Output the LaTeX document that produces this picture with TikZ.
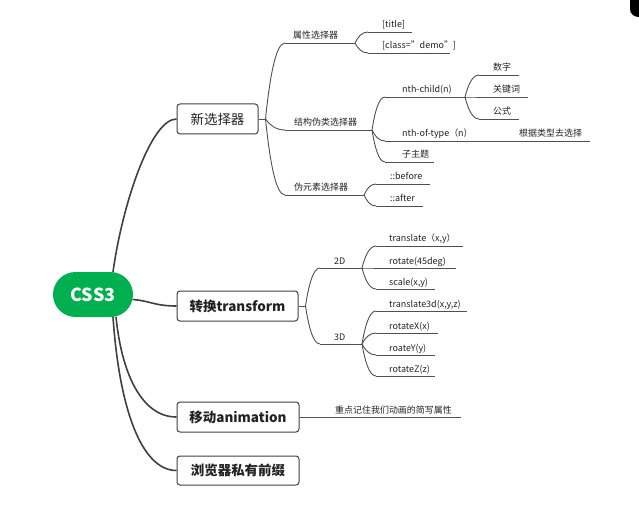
\documentclass[tikz,border=0pt]{standalone}
\usepackage{fontspec}
\setmainfont{Noto Sans CJK SC}
\usetikzlibrary{calc}
\definecolor{cssgreen}{RGB}{0,176,80}
\definecolor{linemain}{RGB}{64,64,64}
\definecolor{linesub}{RGB}{80,80,80}
\definecolor{txt}{RGB}{34,34,34}
\tikzset{
  mainbox/.style={draw=linemain, line width=1bp, rounded corners=3bp, fill=white,
    font=\fontsize{13.5}{16}\selectfont\bfseries, text=txt, inner sep=0pt},
  rootnode/.style={fill=cssgreen, rounded corners=22.5bp, minimum width=80bp,
    minimum height=45bp, text=white, font=\fontsize{18}{20}\selectfont\bfseries, inner sep=0pt},
  mainline/.style={draw=linemain, line width=1.6bp},
  subline/.style={draw=linesub, line width=0.9bp},
  lbl/.style={font=\fontsize{9}{10}\selectfont, text=txt, inner sep=0pt, anchor=base west},
}
\newcommand{\mmtopic}[6]{%
  \coordinate (#1-l) at (#2,#4);
  \coordinate (#1-r) at (#3,#4);
  \draw[subline] (#1-l) -- (#1-r);
  \node[lbl] (#1) at (#5,#4-4) {#6};
}
\newcommand{\mmconn}[6][subline]{%
  \draw[#1] let \p1=(#2), \p2=(#3) in (\p1) .. controls ({\x1+#4*(\x2-\x1)},{\y1+#5*(\y2-\y1)}) and ({\x1+#6*(\x2-\x1)},{\y2}) .. (\p2);
}
\begin{document}
\begin{tikzpicture}[x=1bp,y=-1bp]
\useasboundingbox (0,0) rectangle (639,511);
\fill[white] (0,0) rectangle (639,511);
\fill[black] (639,0) -- (630,0) -- (630,9) .. controls (630,14) and (634,17) .. (639,17) -- cycle;

% main nodes
\node[rootnode] (css) at (93,294.5) {CSS3};
\node[mainbox, font=\fontsize{13.5}{16}\selectfont, minimum width=81bp, minimum height=30bp] (b1) at (217.5,119) {新选择器};
\node[mainbox, minimum width=121bp, minimum height=30bp] (b2) at (237.5,306) {转换transform};
\node[mainbox, minimum width=122bp, minimum height=30bp] (b3) at (238,417) {移动animation};
\node[mainbox, minimum width=122bp, minimum height=29bp] (b4) at (238,470.5) {浏览器私有前缀};

% main connectors
\coordinate (r1) at ($(css.north)+(20,0.2)$);
\coordinate (r2) at ($(css.east)+(-0.6,5)$);
\coordinate (r3) at ($(css.south)+(23,-0.3)$);
\coordinate (r4) at ($(css.south)+(20,-0.3)$);
\mmconn[mainline]{r1}{b1.west}{0.15}{0.45}{0.6}
\mmconn[mainline]{r2}{b2.west}{0.4}{0.2}{0.5}
\mmconn[mainline]{r3}{b3.west}{0.1}{0.6}{0.45}
\mmconn[mainline]{r4}{b4.west}{0.1}{0.6}{0.45}

% 新选择器
\coordinate (j1) at ($(b1.east)+(7,0)$);
\draw[subline] (b1.east) -- (j1);
\mmtopic{s1}{285}{355}{43}{293}{属性选择器}
\mmtopic{s2}{285}{372}{130}{294}{结构伪类选择器}
\mmtopic{s3}{285}{364}{195}{294}{伪元素选择器}
\mmconn{j1}{s1-l}{0.2}{0.5}{0.5}
\mmconn{j1}{s2-l}{0.2}{0.5}{0.5}
\mmconn{j1}{s3-l}{0.2}{0.5}{0.5}

\mmtopic{s11}{368}{412}{32}{382}{[title]}
\mmtopic{s12}{368}{450}{53}{382}{[class="demo"]}
\mmconn{s1-r}{s11-l}{0.2}{0.5}{0.5}
\mmconn{s1-r}{s12-l}{0.2}{0.5}{0.5}

\mmtopic{s21}{385}{465}{97}{402}{nth-child(n)}
\mmtopic{s22}{385}{505}{141}{402}{nth-of-type（n）}
\mmtopic{s23}{385}{434}{162}{402}{子主题}
\mmconn{s2-r}{s21-l}{0.2}{0.5}{0.5}
\mmconn{s2-r}{s22-l}{0.2}{0.5}{0.5}
\mmconn{s2-r}{s23-l}{0.2}{0.5}{0.5}

\mmtopic{s221}{505}{590}{141}{519}{根据类型去选择}
\draw[subline] (s22-r) -- (s221-l);

\mmtopic{s211}{479}{519}{75}{493}{数字}
\mmtopic{s212}{479}{528}{97}{493}{关键词}
\mmtopic{s213}{479}{519}{119}{493}{公式}
\mmconn{s21-r}{s211-l}{0.2}{0.5}{0.5}
\mmconn{s21-r}{s212-l}{0.2}{0.5}{0.5}
\mmconn{s21-r}{s213-l}{0.2}{0.5}{0.5}

\mmtopic{s31}{376}{430}{184}{390}{::before}
\mmtopic{s32}{376}{423}{206}{390}{::after}
\mmconn{s3-r}{s31-l}{0.2}{0.5}{0.5}
\mmconn{s3-r}{s32-l}{0.2}{0.5}{0.5}

% 转换transform
\coordinate (j2) at ($(b2.east)+(7,0)$);
\draw[subline] (b2.east) -- (j2);
\mmtopic{t1}{320}{362}{268}{334}{2D}
\mmtopic{t2}{320}{362}{344}{334}{3D}
\mmconn{j2}{t1-l}{0.2}{0.5}{0.5}
\mmconn{j2}{t2-l}{0.2}{0.5}{0.5}

\mmtopic{t11}{376}{463}{246}{389}{translate（x,y）}
\mmtopic{t12}{376}{456}{268}{389}{rotate(45deg)}
\mmtopic{t13}{376}{435}{289}{389}{scale(x,y)}
\mmconn{t1-r}{t11-l}{0.2}{0.5}{0.5}
\mmconn{t1-r}{t12-l}{0.2}{0.5}{0.5}
\mmconn{t1-r}{t13-l}{0.2}{0.5}{0.5}

\mmtopic{t21}{376}{467}{311}{389}{translate3d(x,y,z)}
\mmtopic{t22}{376}{438}{333}{389}{rotateX(x)}
\mmtopic{t23}{376}{435}{355}{389}{roateY(y)}
\mmtopic{t24}{376}{435}{376}{389}{rotateZ(z)}
\mmconn{t2-r}{t21-l}{0.2}{0.5}{0.5}
\mmconn{t2-r}{t22-l}{0.2}{0.5}{0.5}
\mmconn{t2-r}{t23-l}{0.2}{0.5}{0.5}
\mmconn{t2-r}{t24-l}{0.2}{0.5}{0.5}

% 移动animation
\mmtopic{a1}{320}{461}{417}{335}{重点记住我们动画的简写属性}
\draw[subline] (b3.east) -- (a1-l);
\end{tikzpicture}
\end{document}
